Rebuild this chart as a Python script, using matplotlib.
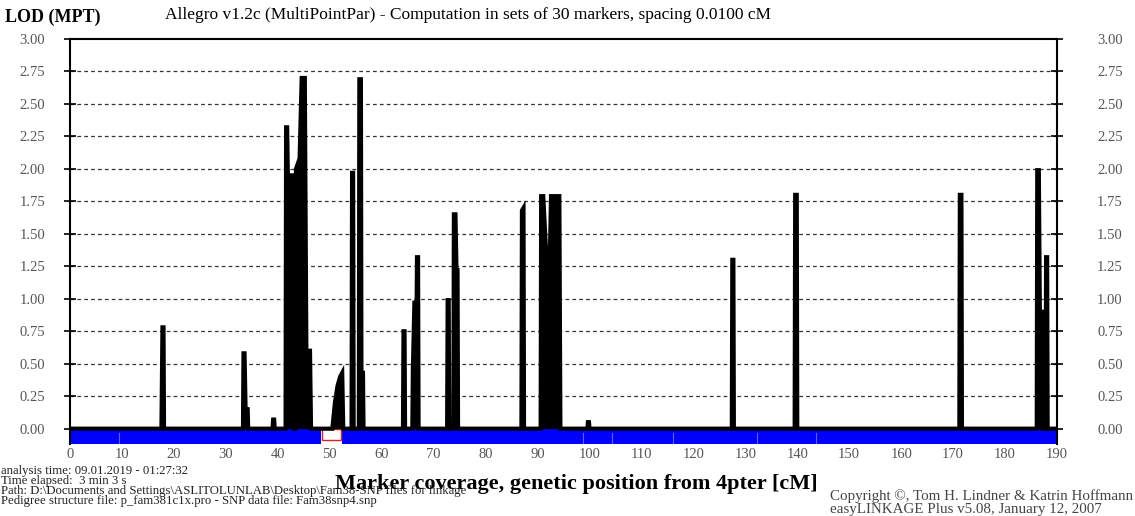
import matplotlib
matplotlib.use("Agg")
import matplotlib.pyplot as plt
from matplotlib.patches import Rectangle
from matplotlib.transforms import ScaledTranslation

plt.rcParams['font.family'] = ['Liberation Serif', 'DejaVu Serif']

# ======== LOD profile (cM, LOD) ========
pos = [0.0, 17.6, 17.8, 18.0, 18.1,
       33.3, 33.4, 33.6, 33.8, 34.2, 34.3,
       39.0, 39.1, 39.3, 39.4,
       41.5, 41.6, 41.8, 42.2, 42.4, 42.7, 43.1,
       43.4, 43.5, 44.2, 44.6, 45.2, 45.5, 46.2, 46.4,
       50.5, 51.0, 51.5, 52.0, 52.4, 52.6,
       54.2, 54.3, 54.5, 54.6,
       55.6, 55.7, 56.0, 56.1, 56.4, 56.5,
       64.1, 64.2, 64.4, 64.5,
       65.9, 66.0, 66.3, 66.5, 66.6, 66.8, 67.0, 67.1,
       72.6, 72.7, 72.9, 73.0,
       73.8, 73.9, 74.2, 74.4, 74.6, 74.7,
       86.9, 87.0, 87.3, 87.4,
       90.6, 90.7, 91.1, 91.9, 92.3, 92.6, 93.0, 93.4, 93.7, 94.2, 94.4,
       99.6, 99.7, 99.9, 100.0,
       127.4, 127.5, 127.7, 127.8,
       139.5, 139.6, 139.9, 140.0,
       171.2, 171.3, 171.6, 171.7,
       186.1, 186.2, 186.5, 186.7, 187.1, 187.2,
       187.8, 187.9, 188.1, 188.2, 190.0]
lod = [0.0, 0.0, 0.78, 0.78, 0.0,
       0.0, 0.58, 0.58, 0.15, 0.15, 0.0,
       0.0, 0.07, 0.07, 0.0,
       0.0, 2.32, 2.32, 1.25, 1.95, 1.95, 0.0,
       0.0, 2.00, 2.08, 2.70, 2.70, 0.60, 0.60, 0.0,
       0.0, 0.20, 0.33, 0.40, 0.43, 0.0,
       0.0, 1.97, 1.97, 0.0,
       0.0, 2.69, 2.69, 0.43, 0.43, 0.0,
       0.0, 0.75, 0.75, 0.0,
       0.0, 0.45, 0.97, 0.97, 0.30, 1.32, 1.32, 0.0,
       0.0, 0.99, 0.99, 0.0,
       0.0, 1.65, 1.65, 1.22, 1.22, 0.0,
       0.0, 1.68, 1.70, 0.0,
       0.0, 1.79, 1.79, 1.17, 1.17, 1.79, 1.79, 1.60, 1.79, 1.79, 0.0,
       0.0, 0.05, 0.05, 0.0,
       0.0, 1.30, 1.30, 0.0,
       0.0, 1.80, 1.80, 0.0,
       0.0, 1.80, 1.80, 0.0,
       0.0, 1.99, 1.99, 0.90, 0.90, 0.0,
       0.0, 1.32, 1.32, 0.0, 0.0]

# marker coverage band (start, width) and the uncovered gap
coverage = [(0.0, 48.4), (52.4, 137.6)]
gap = (48.6, 3.6)
coverage_marks = [9.4, 98.7, 104.4, 116.0, 132.2, 143.7]

xticks = list(range(0, 191, 10))
yticks = [0.0, 0.25, 0.5, 0.75, 1.0, 1.25, 1.5, 1.75, 2.0, 2.25, 2.5, 2.75, 3.0]

fig = plt.figure(figsize=(11.35, 5.16), dpi=100)
ax = fig.add_axes([70 / 1135, 1 - 444 / 516, 987 / 1135, 405 / 516])
ax.set_xlim(0, 190)
ax.set_ylim(-0.118, 3.0)

# grid
for yv in yticks[1:-1]:
    ax.axhline(yv, color='#333333', lw=0.9, ls=(0, (3, 2.5)), zorder=1)

# blue coverage band
ax.broken_barh(coverage, (-0.118, 0.118), facecolors='#0000ff', zorder=2)
ax.add_patch(Rectangle((gap[0], -0.085), gap[1], 0.08, fill=False,
                       edgecolor='#dd2222', lw=1.0, zorder=3))
for m in coverage_marks:
    ax.plot([m, m], [-0.118, -0.03], color='white', lw=0.8, alpha=0.4, zorder=3)

# LOD curve
ax.fill_between(pos, 0, lod, color='black', lw=0, zorder=4)
ax.plot(pos, lod, color='black', lw=3.0, solid_joinstyle='miter', zorder=5)

# axes styling
for s in ['left', 'top', 'right']:
    ax.spines[s].set_linewidth(1.5)
ax.spines['bottom'].set_visible(False)

ax.set_xticks(xticks)
ax.set_xticklabels([str(v) for v in xticks])
ax.tick_params(axis='x', length=0, pad=3, labelsize=10.5, labelcolor='#555555')

ax.set_yticks(yticks)
ax.set_yticklabels(['%.2f' % v for v in yticks])
ax.tick_params(axis='y', left=True, right=True, labelleft=True, labelright=True,
               direction='inout', length=8, width=1.2, pad=14,
               labelsize=10.5, labelcolor='#555555')
# push right-hand labels further out
offset = ScaledTranslation(15 / 100, 0, fig.dpi_scale_trans)
for t in ax.yaxis.get_major_ticks():
    t.label2.set_transform(t.label2.get_transform() + offset)

# texts
fig.text(0.004, 1 - 17 / 516, 'LOD (MPT)', fontsize=13, fontweight='bold',
         va='center', ha='left')
fig.text(165 / 1135, 1 - 15 / 516,
         'Allegro v1.2c (MultiPointPar) - Computation in sets of 30 markers, spacing 0.0100 cM',
         fontsize=12.5, va='center', ha='left')
fig.text(576 / 1135, 1 - 484 / 516,
         'Marker coverage, genetic position from 4pter [cM]',
         fontsize=16, fontweight='bold', va='center', ha='center')

info = ['analysis time: 09.01.2019 - 01:27:32',
        'Time elapsed:  3 min 3 s',
        'Path: D:\\Documents and Settings\\ASLITOLUNLAB\\Desktop\\Fam38-SNP files for linkage',
        'Pedigree structure file: p_fam381c1x.pro - SNP data file: Fam38snp4.snp']
for i, line in enumerate(info):
    fig.text(0.001, 1 - (471 + i * 10) / 516, line, fontsize=9.2,
             va='center', ha='left', color='#222222')

fig.text(830 / 1135, 1 - 496 / 516,
         'Copyright \u00a9, Tom H. Lindner & Katrin Hoffmann',
         fontsize=10.8, va='center', ha='left', color='#444444')
fig.text(830 / 1135, 1 - 509 / 516,
         'easyLINKAGE Plus v5.08, January 12, 2007',
         fontsize=10.8, va='center', ha='left', color='#444444')

fig.savefig('out.png', dpi=100)
